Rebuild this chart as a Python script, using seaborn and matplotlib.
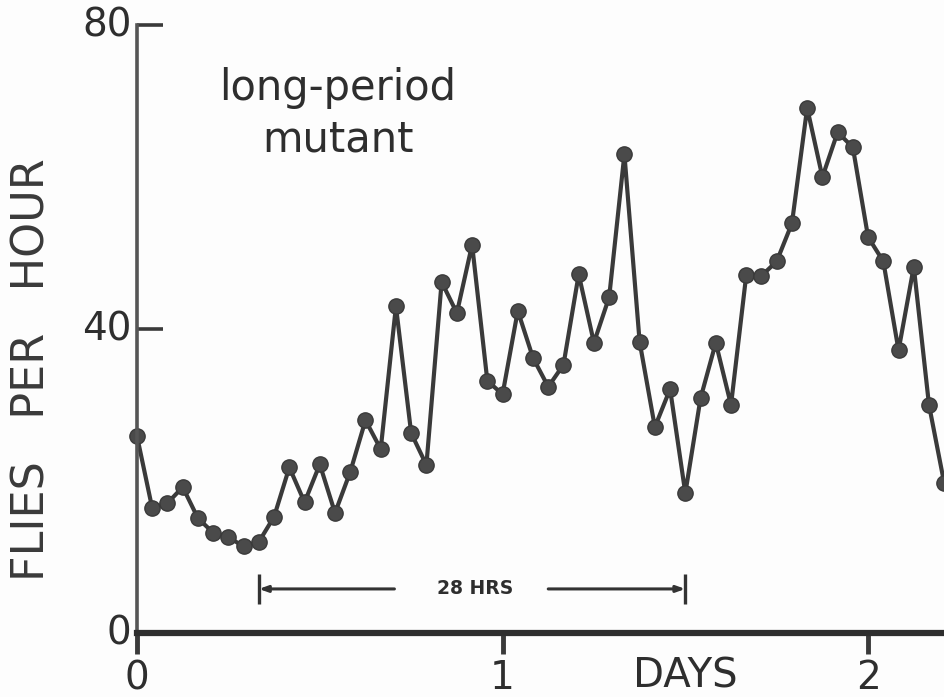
import matplotlib
matplotlib.use("Agg")
import matplotlib.pyplot as plt
import seaborn as sns
import pandas as pd

# Hourly counts of flies emerging, long-period mutant
hours = list(range(54))
flies_per_hour = [
    25.9, 16.4, 17.1, 19.2, 15.1, 13.2, 12.6, 11.4, 12.0, 15.3,
    21.8, 17.2, 22.2, 15.8, 21.2, 28.0, 24.2, 43.0, 26.3, 22.1,
    46.2, 42.1, 51.1, 33.2, 31.4, 42.4, 36.2, 32.4, 35.3, 47.2,
    38.2, 44.2, 63.0, 38.3, 27.1, 32.1, 18.4, 30.9, 38.2, 30.0,
    47.1, 47.0, 48.9, 53.9, 69.1, 60.0, 65.9, 63.9, 52.1, 48.9,
    37.2, 48.2, 30.0, 19.7,
]
day_ticks = [0, 24, 48]
day_labels = ["0", "1", "2"]
y_ticks = [0, 40, 80]
y_labels = ["0", "40", "80"]

period_start, period_end = 8, 36
period_label = "28 HRS"

df = pd.DataFrame({"hour": hours, "flies": flies_per_hour})

sns.set_style("white")
plt.rcParams["font.family"] = ["DejaVu Sans"]

ink = "#3a3a3a"
fig = plt.figure(figsize=(9.45, 6.97), dpi=100, facecolor="#fdfdfd")
ax = fig.add_axes([0.145, 0.0918, 0.855, 0.8723])
ax.set_facecolor("#fdfdfd")

sns.lineplot(data=df, x="hour", y="flies", ax=ax, color=ink, linewidth=3.0,
             marker="o", markersize=11, markeredgecolor=ink,
             markerfacecolor="#4a4a4a", markeredgewidth=1.0, clip_on=False)

ax.set_xlim(0, 53.05)
ax.set_ylim(0, 80)

for side in ("top", "right"):
    ax.spines[side].set_visible(False)
ax.spines["left"].set_linewidth(2.6)
ax.spines["left"].set_color("#555555")
ax.spines["bottom"].set_linewidth(4.5)
ax.spines["bottom"].set_color("#2e2e2e")

ax.set_xticks(day_ticks)
ax.set_xticklabels(day_labels)
ax.set_yticks(y_ticks)
ax.set_yticklabels(y_labels)
ax.tick_params(axis="x", bottom=True, direction="out", length=15, width=3.5,
               color="#3a3a3a", pad=4, labelsize=28, labelcolor="#2e2e2e")
ax.tick_params(axis="y", left=True, direction="in", length=19, width=2.6,
               color="#3a3a3a", pad=4, labelsize=28, labelcolor="#2e2e2e")
for lab in ax.get_yticklabels():
    lab.set_verticalalignment("center")

ax.set_xlabel("DAYS", fontsize=29, color="#2e2e2e")
ax.xaxis.set_label_coords(0.678, -0.071)
ax.xaxis.label.set_verticalalignment("center")
ax.set_ylabel("FLIES   PER   HOUR", fontsize=32, color="#3a3a3a")
ax.yaxis.set_label_coords(-0.13, 0.434)
ax.yaxis.label.set_verticalalignment("center")

ax.text(13.2, 68.3, "long-period\nmutant", fontsize=30, color="#2e2e2e",
        ha="center", va="center", linespacing=1.3)

# 28-hour period bar with outward arrows
bar_y = 5.8
text_x = 22.2
arrow_kw = dict(arrowstyle="-|>,head_length=0.5,head_width=0.18",
                color="#333333", lw=2.2, shrinkA=0, shrinkB=0)
ax.annotate("", xy=(period_start, bar_y), xytext=(16.9, bar_y), arrowprops=arrow_kw)
ax.annotate("", xy=(period_end, bar_y), xytext=(27.0, bar_y), arrowprops=arrow_kw)
ax.vlines([period_start, period_end], bar_y - 2.0, bar_y + 2.0,
          color="#333333", lw=2.4)
ax.text(text_x, bar_y, period_label, fontsize=13.5, fontweight="bold",
        color="#2e2e2e", ha="center", va="center")

fig.savefig("out.png", dpi=100, facecolor=fig.get_facecolor())
